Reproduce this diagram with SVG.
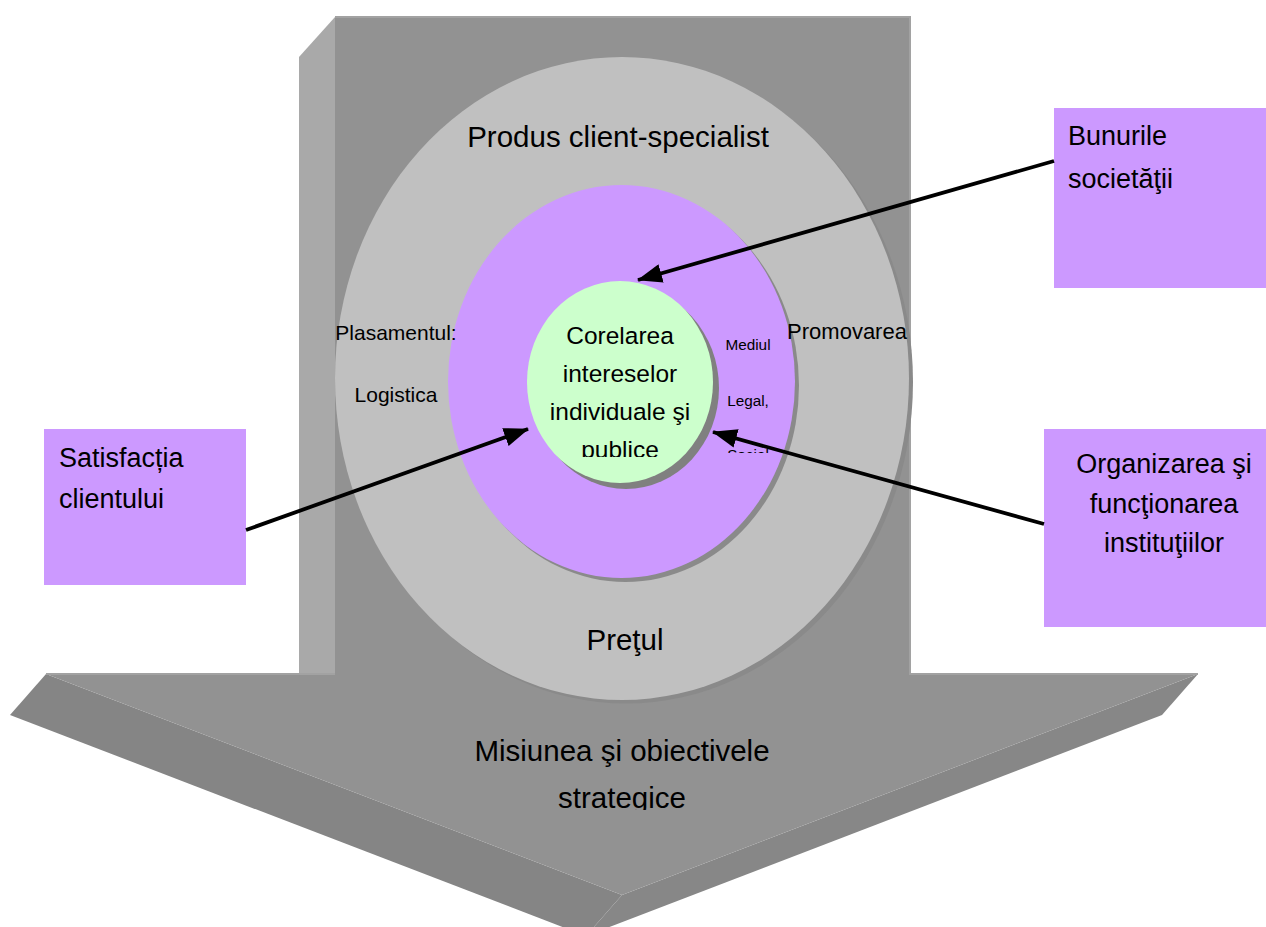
<svg xmlns="http://www.w3.org/2000/svg" width="1266" height="927" viewBox="0 0 1266 927">
<style>
text{font-family:"Liberation Sans",Arial,sans-serif;fill:#000}
.big{font-size:29.5px;text-anchor:middle}
.mid{font-size:21px;text-anchor:middle}
.core{font-size:24.5px;text-anchor:middle}
.small{font-size:15.3px;text-anchor:middle}
.box{font-size:27px}
.boxc{font-size:27px;text-anchor:middle}
.purple{fill:#cc99ff}
.conn{stroke:#000;stroke-width:3.8;fill:none;marker-end:url(#ah)}
</style>
<defs>
<marker id="ah" markerUnits="userSpaceOnUse" markerWidth="25" markerHeight="19" refX="24" refY="9.5" orient="auto">
<path d="M0,0 L25,9.5 L0,19 z" fill="#000"/>
</marker>
<clipPath id="clipCore"><rect x="520" y="270" width="200" height="187"/></clipPath>
<clipPath id="clipMediul"><rect x="700" y="320" width="100" height="133"/></clipPath>
<clipPath id="clipMisiune"><rect x="300" y="720" width="650" height="90"/></clipPath>
</defs>
<rect width="1266" height="927" fill="#fff"/>
<g id="arrow">
<polygon points="299,57 335,17 335,674 299,674" fill="#a9a9a9"/>
<polygon points="46,674 622,895 586,936 10,715" fill="#858585"/>
<polygon points="1198,674 1162,715 586,936 622,895" fill="#878787"/>
<polygon points="335,17 910,17 910,674 1198,674 622,895 46,674 335,674" fill="#929292"/>
<polyline points="335,17 910,17 910,674 1198,674" fill="none" stroke="#a2a2a2" stroke-width="2"/>
<polyline points="46,674 335,674" fill="none" stroke="#a2a2a2" stroke-width="2"/>
<text class="big" x="622" y="761">Misiunea şi obiectivele</text>
<text class="big" x="622" y="808" clip-path="url(#clipMisiune)">strategice</text>
</g>
<g id="outer-ring">
<ellipse cx="626" cy="382" rx="287" ry="321.5" fill="#8a8a8a"/>
<ellipse cx="622" cy="378.5" rx="287" ry="321.5" fill="#c0c0c0"/>
</g>
<g id="middle-ring">
<ellipse cx="625.5" cy="385.5" rx="173.5" ry="196.5" fill="#8a8a8a"/>
<ellipse cx="621.5" cy="381.5" rx="173.5" ry="196.5" class="purple"/>
<g clip-path="url(#clipMediul)">
<text class="small" x="748" y="350">Mediul</text>
<text class="small" x="748" y="406">Legal,</text>
<text class="small" x="748" y="460">Social</text>
</g>
</g>
<g id="outer-ring-labels">
<text class="big" x="618" y="147">Produs client-specialist</text>
<text class="big" x="625" y="650">Preţul</text>
<text class="mid" x="396" y="340">Plasamentul:</text>
<text class="mid" x="396" y="402">Logistica</text>
<text class="mid" x="847" y="339" style="font-size:22px">Promovarea</text>
</g>
<g id="core">
<ellipse cx="626" cy="388" rx="93" ry="101" fill="#808080"/>
<ellipse cx="620" cy="382" rx="93" ry="101" fill="#ccffcc"/>
<g clip-path="url(#clipCore)">
<text class="core" x="620" y="344">Corelarea</text>
<text class="core" x="620" y="382">intereselor</text>
<text class="core" x="620" y="420">individuale şi</text>
<text class="core" x="620" y="458">publice</text>
</g>
</g>
<g id="box-bunuri">
<rect x="1054" y="108" width="230" height="180" class="purple"/>
<text class="box" x="1068" y="145">Bunurile</text>
<text class="box" x="1068" y="188">societăţii</text>
</g>
<g id="box-satisfactie">
<rect x="44" y="429" width="202" height="156" class="purple"/>
<text class="box" x="59" y="467">Satisfacția</text>
<text class="box" x="59" y="508">clientului</text>
</g>
<g id="box-organizare">
<rect x="1044" y="429" width="240" height="198" class="purple"/>
<text class="boxc" x="1164" y="473">Organizarea şi</text>
<text class="boxc" x="1164" y="513">funcţionarea</text>
<text class="boxc" x="1164" y="552">instituţiilor</text>
</g>
<g id="connectors">
<line class="conn" x1="1054" y1="161" x2="638" y2="280"/>
<line class="conn" x1="246" y1="530" x2="528" y2="429"/>
<line class="conn" x1="1044" y1="524" x2="713" y2="432"/>
</g>
</svg>
